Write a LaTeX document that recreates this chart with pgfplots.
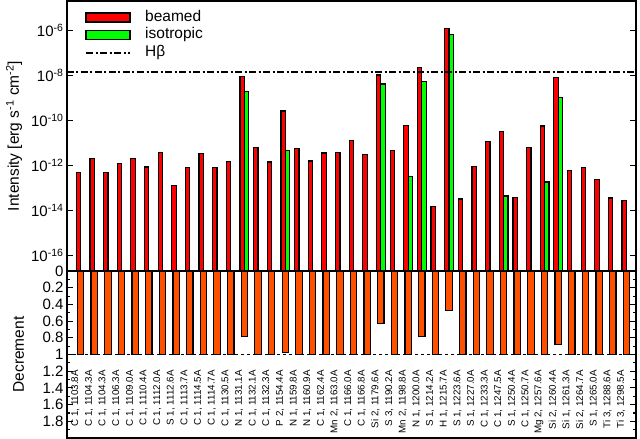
\documentclass[border=0pt]{standalone}
\usepackage{pgfplots}
\pgfplotsset{compat=1.18}
\usepackage{fontspec}
\setmainfont{Liberation Sans}
\definecolor{bred}{RGB}{255,0,0}
\definecolor{bgreen}{RGB}{0,255,0}
\definecolor{borange}{RGB}{255,80,0}
\pgfplotsset{
  barlegend/.style={legend image code/.code={\draw[##1] (0pt,-4.5pt) rectangle (44pt,4.5pt);}},
  linelegend/.style={legend image code/.code={\draw[##1] (0pt,0pt) -- (44pt,0pt);}},
}
\begin{document}
\begin{tikzpicture}
\pgfplotsset{
  panel/.style={
    scale only axis, width=569pt,
    xmin=-1, xmax=40.7,
    axis line style={line width=1.5pt},
    major tick length=6pt, minor tick length=3pt,
    every tick/.style={black, line width=1.1pt},
    tick label style={font=\fontsize{15}{18}\selectfont},
    label style={font=\fontsize{15.5}{18}\selectfont},
  }
}
\begin{axis}[panel, name=top, at={(0,167pt)}, height=270pt,
  ymode=log, ymin=2e-17, ymax=2e-5, log origin=infty,
  ytick={2e-17,1e-16,1e-14,1e-12,1e-10,1e-8,1e-6},
  yticklabels={0,10\textsuperscript{-16},10\textsuperscript{-14},10\textsuperscript{-12},10\textsuperscript{-10},10\textsuperscript{-8},10\textsuperscript{-6}},
  yminorticks=false,
  xtick=\empty,
  ylabel={Intensity [erg s\textsuperscript{-1} cm\textsuperscript{-2}]},
  ylabel style={at={(axis description cs:-0.093,0.5)}, anchor=center},
  legend style={at={(axis description cs:0.0325,0.972)}, anchor=north west, draw=none, fill=none,
    inner sep=0pt, outer sep=0pt, row sep=0pt, column sep=14pt,
    font=\fontsize{15.5}{18}\selectfont,
    nodes={inner sep=0.5pt, text height=12pt, text depth=4.8pt}},
  legend cell align=left,
]
\addplot[ybar, bar width=0.32, bar shift=-0.16, fill=bred, draw=black, line width=1.2pt, barlegend]
coordinates {(0,4.9e-13) (1,1.95e-12) (2,4.9e-13) (3,1.2e-12) (4,1.95e-12) (5,8.3e-13) (6,3.7e-12) (7,1.26e-13) (8,8.1e-13) (9,3.4e-12) (10,7.8e-13) (11,1.48e-12) (12,8.5e-9) (13,6.0e-12) (14,1.41e-12) (15,2.6e-10) (16,5.6e-12) (17,1.55e-12) (18,3.5e-12) (19,3.7e-12) (20,1.23e-11) (21,2.95e-12) (22,1.02e-8) (23,4.5e-12) (24,6.0e-11) (25,2.3e-8) (26,1.5e-14) (27,1.2e-6) (28,3.2e-14) (29,8.9e-13) (30,1.15e-11) (31,3.2e-11) (32,3.7e-14) (33,6.2e-12) (34,5.6e-11) (35,7.8e-9) (36,6.0e-13) (37,8.1e-13) (38,2.24e-13) (39,3.5e-14) (40,2.7e-14)};
\addplot[ybar, bar width=0.32, bar shift=0.16, fill=bgreen, draw=black, line width=1.2pt, barlegend]
coordinates {(12,1.86e-9) (15,4.6e-12) (22,4.1e-9) (24,3.2e-13) (25,5.1e-9) (27,6.6e-7) (31,4.3e-14) (34,1.8e-13) (35,1.0e-9)};
\addplot[sharp plot, black, line width=1.2pt, dash pattern=on 7pt off 2.5pt on 2pt off 2.5pt, linelegend]
coordinates {(-1,1.4e-8) (40.7,1.4e-8)};
\legend{beamed, isotropic, Hβ}
\end{axis}
\begin{axis}[panel, name=bot, at={(0,0)}, height=167pt,
  ymin=0, ymax=2, y dir=reverse,
  ytick={0.2,0.4,0.6,0.8,1,1.2,1.4,1.6,1.8},
  yticklabels={0.2,0.4,0.6,0.8,1,1.2,1.4,1.6,1.8},
  minor ytick={0.1,0.3,0.5,0.7,0.9,1.1,1.3,1.5,1.7,1.9},
  xtick={0,...,40},
  xticklabels={{C 1, 1103.8A},{C 1, 1104.3A},{C 1, 1104.3A},{C 1, 1106.3A},{C 1, 1109.0A},{C 1, 1110.4A},{C 1, 1112.0A},{S 1, 1112.6A},{C 1, 1113.7A},{C 1, 1114.5A},{C 1, 1114.7A},{C 1, 1130.5A},{N 1, 1131.1A},{C 1, 1132.1A},{C 1, 1132.3A},{P 2, 1154.4A},{N 1, 1159.8A},{N 1, 1160.9A},{C 1, 1162.4A},{Mn 2, 1163.0A},{C 1, 1166.0A},{C 1, 1166.8A},{Si 2, 1179.6A},{S 3, 1190.2A},{Mn 2, 1198.8A},{N 1, 1200.0A},{S 1, 1214.2A},{H 1, 1215.7A},{S 1, 1223.6A},{S 1, 1227.0A},{C 1, 1233.3A},{C 1, 1247.5A},{S 1, 1250.4A},{C 1, 1250.7A},{Mg 2, 1257.6A},{Si 2, 1260.4A},{Si 1, 1261.3A},{Si 2, 1264.7A},{S 1, 1265.0A},{Ti 3, 1288.6A},{Ti 3, 1298.5A}},
  xticklabel style={rotate=90, anchor=south east, inner sep=1pt, font=\fontsize{9.8}{12}\selectfont},
  xticklabel shift=-69pt,
  xtick style={draw=none},
  ylabel={Decrement},
  ylabel style={at={(axis description cs:-0.085,0.5)}, anchor=center},
]
\addplot[sharp plot, black, line width=1pt, dash pattern=on 3pt off 3pt]
coordinates {(-1,1) (40.7,1)};
\addplot[ybar, bar width=0.47, bar shift=0, fill=borange, draw=black, line width=1.2pt]
coordinates {(0,1) (1,1) (2,1) (3,1) (4,1) (5,1) (6,1) (7,1) (8,1) (9,1) (10,1) (11,1) (12,0.78) (13,1) (14,1) (15,0.98) (16,1) (17,1) (18,1) (19,1) (20,1) (21,1) (22,0.63) (23,1) (24,1) (25,0.78) (26,1) (27,0.47) (28,1) (29,1) (30,1) (31,1) (32,1) (33,1) (34,1) (35,0.88) (36,1) (37,1) (38,1) (39,1) (40,1)};
\end{axis}
\pgfresetboundingbox
\useasboundingbox (-67pt,-1pt) rectangle (573pt,438pt);
\end{tikzpicture}
\end{document}
